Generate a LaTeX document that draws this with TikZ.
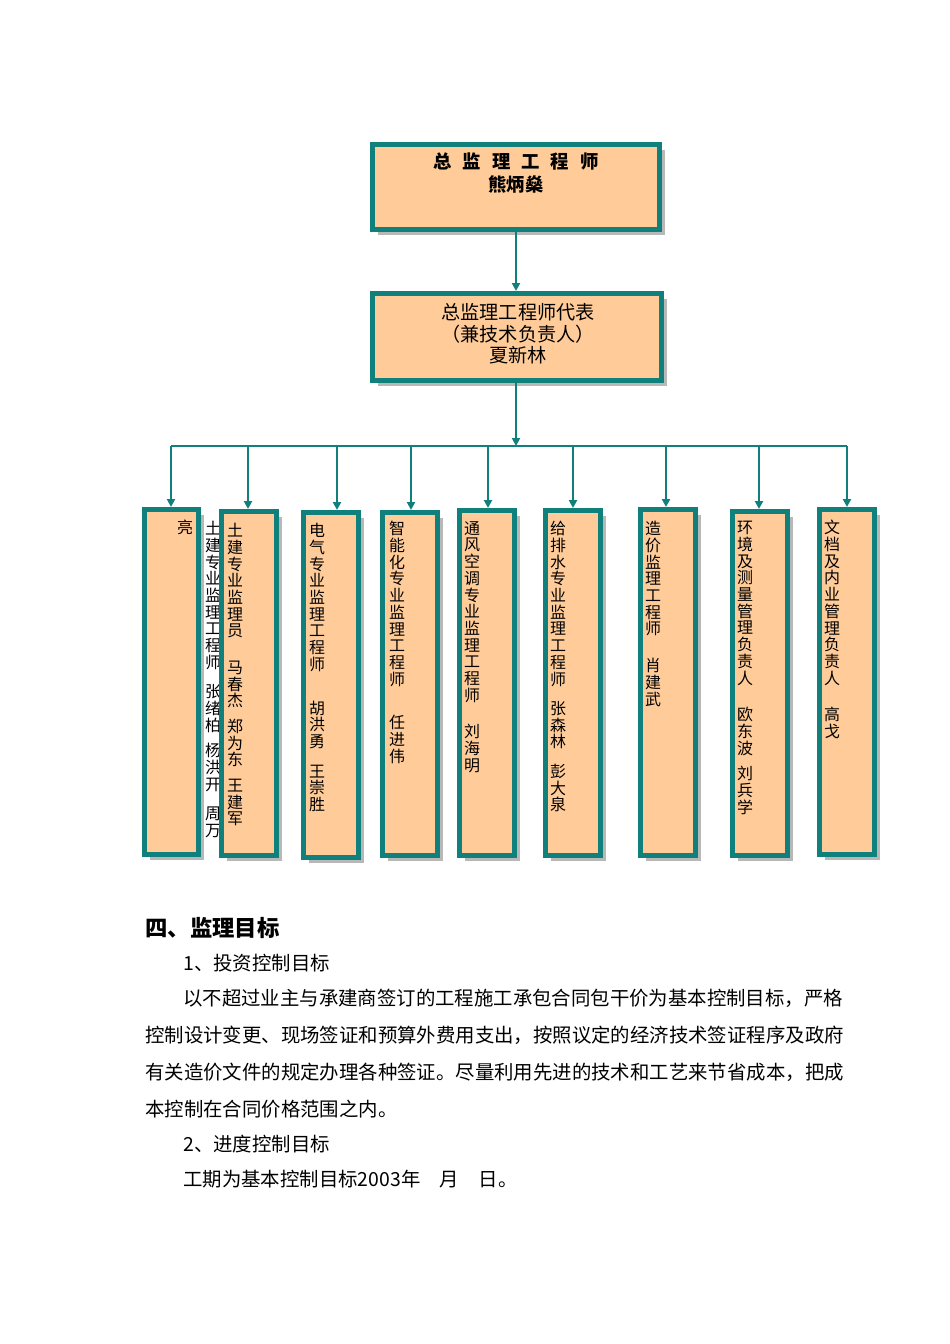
\documentclass[tikz,border=0pt]{standalone}
\usepackage{fontspec}
\setmainfont{Noto Sans CJK SC}
\usetikzlibrary{arrows.meta,shadows}
\definecolor{orgline}{HTML}{0F807C}
\definecolor{orgfill}{HTML}{FFCC99}
\definecolor{orgshade}{HTML}{B8B8B8}
\newcommand{\px}{0.6262pt}
\makeatletter
\newcommand{\vcol}[1]{\vbox{\baselineskip=10.46pt\lineskiplimit=-20pt\vcol@#1\@nil}}
\def\vcol@#1{%
  \ifx\@nil#1\else
    \ifx-#1\vskip5.5pt\else
    \ifx+#1\vskip8pt\else
    \ifx*#1\vskip12.5pt\else
    \ifx=#1\vskip17pt\else
      \hbox to10pt{\hss#1\hss}%
    \fi\fi\fi\fi
    \expandafter\vcol@
  \fi}
\makeatother

\begin{document}
\begin{tikzpicture}[x=\px,y=-\px,
  orgbox/.style={draw=orgline,fill=orgfill,line width=5*\px,line join=miter,inner sep=0pt,
    drop shadow={shadow xshift=5.5*\px,shadow yshift=-5.5*\px,fill=orgshade,opacity=1}},
  link/.style={draw=orgline,line width=2*\px,-{Triangle[length=5pt,width=5pt]}},
  bus/.style={draw=orgline,line width=2*\px},
  coltext/.style={anchor=north,inner sep=0pt,font=\fontsize{10pt}{10.46pt}\selectfont},
  bodytext/.style={anchor=west,inner sep=0pt,font=\fontsize{12.15pt}{14pt}\selectfont}]
\useasboundingbox (0,0) rectangle (950,1344);
\node[orgbox,minimum width=287*\px,minimum height=85*\px] (chief) at (516,187) {};
\node[orgbox,minimum width=289*\px,minimum height=87*\px] (deputy) at (517,337) {};
\node[inner sep=0pt,align=center,font=\fontsize{11.5pt}{13.8pt}\selectfont\bfseries] (chieftext) at (516,173)
  {总\hspace{0.6em}监\hspace{0.6em}理\hspace{0.6em}工\hspace{0.6em}程\hspace{0.6em}师\\熊炳燊};
\node[inner sep=0pt,align=center,font=\fontsize{12pt}{13.5pt}\selectfont] (deputytext) at (518,334)
  {总监理工程师代表\\（兼技术负责人）\\夏新林};
\draw[link] (chief.south) -- (chief.south |- deputy.north);
\coordinate (bus) at (516,446);
\draw[link] (chief.south |- deputy.south) -- (bus);
\node[coltext] (spill) at (213,521) {\vcol{土建专业监理工程师+张绪柏-杨洪开+周万}};
\foreach \n/\x/\y/\w/\h/\dx in {b1/171/682/54/345/0,b2/249/683.5/55/344/-1,b3/331/685/55/345/6,
  b4/410/684/55/343/1,b5/487/683/55/345/1,b6/573/683/55/345/0,b7/668/682.5/55/346/-2,
  b8/760/683.5/55/344/-1,b9/847/682/55/345/0}
{
  \node[orgbox,minimum width=\w*\px,minimum height=\h*\px] (\n) at (\x,\y) {};
  \path ([xshift=\dx*\px]\n.north) coordinate (t\n);
  \draw[link] (t\n |- bus) -- (t\n);
}
\draw[bus] (tb1 |- bus) -- (tb9 |- bus);
\node[coltext] (c1) at (185,520) {\vcol{亮}};
\node[coltext] (c2) at (235,523) {\vcol{土建专业监理员*马春杰-郑为东-王建军}};
\node[coltext] (c3) at (317,523) {\vcol{电气专业监理工程师=胡洪勇+王崇胜}};
\node[coltext] (c4) at (397,521) {\vcol{智能化专业监理工程师=任进伟}};
\node[coltext] (c5) at (472,521) {\vcol{通风空调专业监理工程师*刘海明}};
\node[coltext] (c6) at (558,521) {\vcol{给排水专业监理工程师+张森林+彭大泉}};
\node[coltext] (c7) at (653,521) {\vcol{造价监理工程师*肖建武}};
\node[coltext] (c8) at (745,521) {\vcol{环境及测量管理负责人*欧东波-刘兵学}};
\node[coltext] (c9) at (832,520) {\vcol{文档及内业管理负责人*高戈}};
\node[anchor=west,inner sep=0pt,font=\fontsize{14pt}{16pt}\selectfont\bfseries] (goal) at (145,928) {四、监理目标};
\node[bodytext] (g1) at (183,963) {1、投资控制目标};
\node[bodytext] (p1) at (183,998) {以不超过业主与承建商签订的工程施工承包合同包干价为基本控制目标，严格};
\node[bodytext] (p2) at (145,1035) {控制设计变更、现场签证和预算外费用支出，按照议定的经济技术签证程序及政府};
\node[bodytext] (p3) at (145,1072) {有关造价文件的规定办理各种签证。尽量利用先进的技术和工艺来节省成本，把成};
\node[bodytext] (p4) at (145,1109) {本控制在合同价格范围之内。};
\node[bodytext] (g2) at (183,1144) {2、进度控制目标};
\node[bodytext] (p5) at (183,1179) {工期为基本控制目标2003年\quad 月\quad 日。};
\end{tikzpicture}
\end{document}
